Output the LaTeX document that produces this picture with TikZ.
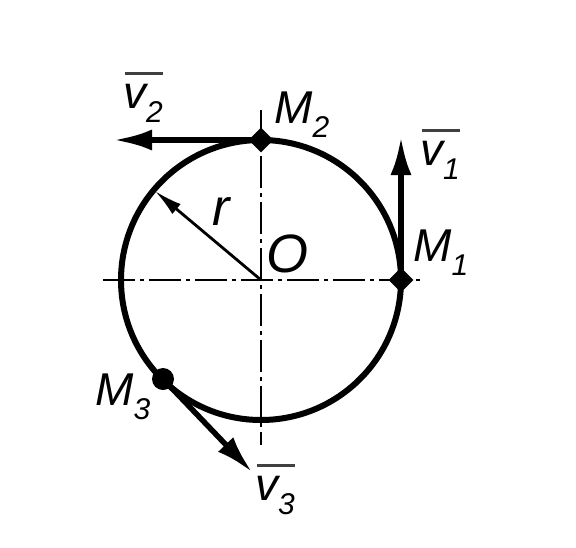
\documentclass[tikz,border=0pt]{standalone}
\usepackage{fontspec}
\setmainfont{Liberation Sans}
\usetikzlibrary{arrows.meta,shapes.geometric,calc}
\newcommand{\lsub}[2]{#1\raisebox{-0.32em}{\fontsize{30}{34}\selectfont #2}}
\begin{document}
\begin{tikzpicture}[x=1pt,y=-1pt,
  axisline/.style={line width=2pt, dash pattern=on 32pt off 5pt on 4pt off 5pt},
  vec/.style={line width=5.5pt,-{Latex[length=38pt,width=21pt]}},
  radarrow/.style={line width=2.8pt,-{Latex[length=28pt,width=13pt]}},
  pointd/.style={diamond,fill=black,inner sep=0pt,minimum size=25pt},
  pointc/.style={circle,fill=black,inner sep=0pt,minimum size=22pt},
  lbl/.style={font=\fontsize{46}{52}\selectfont\itshape,inner sep=0pt,anchor=base west},
  vbar/.style={line width=2.5pt,black!75}]
\useasboundingbox (0,0) rectangle (576,547);
\coordinate (O) at (261,280);
% axes
\coordinate (axL) at (103,280);
\coordinate (axR) at (420,280);
\coordinate (axT) at (261,110);
\coordinate (axB) at (261,445);
\draw[axisline] (axL) -- (axR);
\draw[axisline] (axT) -- (axB);
% circle
\draw[line width=6pt] (O) circle (140);
% points
\node[pointd] (M1) at (401,280) {};
\node[pointd] (M2) at (261,140) {};
\node[pointc] (M3) at (163,379) {};
% velocity tips
\coordinate (v1) at (401,137);
\coordinate (v2) at (114,140);
\coordinate (v3) at (252,472);
\draw[vec] (M1.center) -- (v1);
\draw[vec] (M2.center) -- (v2);
\draw[vec] (M3.center) -- (v3);
% radius
\coordinate (R) at (155,191);
\draw[radarrow] (O) -- (R);
% labels
\node[lbl,font=\fontsize{54}{60}\selectfont\itshape] (lO) at (266,272) {O};
\node[lbl,font=\fontsize{52}{60}\selectfont\itshape] (lr) at (212,225) {r};
\node[lbl] (lM1) at (413,261) {\lsub{M}{1}};
\node[lbl] (lM2) at (274,123) {\lsub{M}{2}};
\node[lbl] (lM3) at (95,405) {\lsub{M}{3}};
\node[lbl] (lv1) at (420,165) {\lsub{v}{1}};
\node[lbl] (lv2) at (123,108) {\lsub{v}{2}};
\node[lbl] (lv3) at (255,500) {\lsub{v}{3}};
\draw[vbar] ($(lv1.north west)+(2,-10)$) -- ($(lv1.north east)+(0,-10)$);
\draw[vbar] ($(lv2.north west)+(2,-10)$) -- ($(lv2.north east)+(0,-10)$);
\draw[vbar] ($(lv3.north west)+(2,-10)$) -- ($(lv3.north east)+(0,-10)$);
\end{tikzpicture}
\end{document}
